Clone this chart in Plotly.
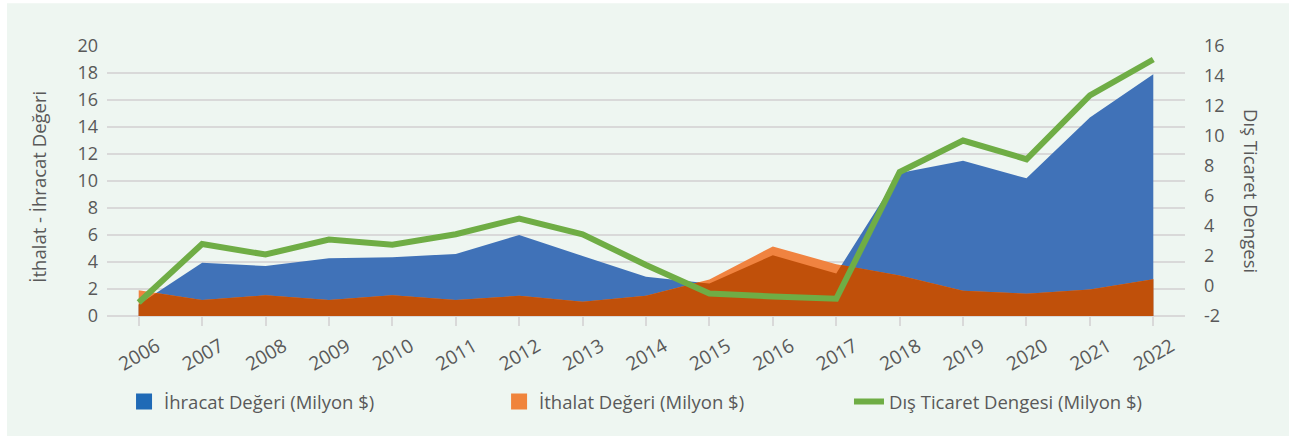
import plotly.graph_objects as go

years = ["2006", "2007", "2008", "2009", "2010", "2011", "2012", "2013", "2014",
         "2015", "2016", "2017", "2018", "2019", "2020", "2021", "2022"]
ihracat = [0.85, 3.95, 3.7, 4.28, 4.35, 4.6, 6.0, 4.45, 2.9,
           2.4, 4.5, 3.15, 10.6, 11.5, 10.2, 14.7, 17.9]
ithalat = [1.9, 1.18, 1.53, 1.18, 1.53, 1.18, 1.5, 1.06, 1.5,
           2.7, 5.15, 3.84, 3.0, 1.87, 1.65, 1.97, 2.72]
denge = [-1.1, 2.8, 2.1, 3.1, 2.75, 3.45, 4.5, 3.45, 1.4,
         -0.5, -0.7, -0.85, 7.6, 9.7, 8.45, 12.7, 15.1]
sag_eksen = [-2, 0, 2, 4, 6, 8, 10, 12, 14, 16]

BLUE = "#4072B8"
ORANGE = "#F08340"
DARK = "#C0500A"
GREEN = "#6FAD45"
TXT = "#595959"
BG = "#EEF6F1"
FONT = "Open Sans"

idx = list(range(len(years)))

# overlap of the two areas = area under the lower curve (with crossing points)
ov_x, ov_y = [], []
for i in idx:
    ov_x.append(i)
    ov_y.append(min(ihracat[i], ithalat[i]))
    if i < len(years) - 1:
        d0 = ihracat[i] - ithalat[i]
        d1 = ihracat[i + 1] - ithalat[i + 1]
        if d0 * d1 < 0:
            t = d0 / (d0 - d1)
            ov_x.append(i + t)
            ov_y.append(ihracat[i] + t * (ihracat[i + 1] - ihracat[i]))

traces = [
    go.Scatter(x=idx, y=ihracat, mode="none", fill="tozeroy", fillcolor=BLUE,
               showlegend=False, hoverinfo="skip"),
    go.Scatter(x=idx, y=ithalat, mode="none", fill="tozeroy", fillcolor=ORANGE,
               showlegend=False, hoverinfo="skip"),
    go.Scatter(x=ov_x, y=ov_y, mode="none", fill="tozeroy", fillcolor=DARK,
               showlegend=False, hoverinfo="skip"),
    go.Scatter(x=idx, y=denge, mode="lines", yaxis="y2",
               line=dict(color=GREEN, width=6),
               name="Dış Ticaret Dengesi (Milyon $)", legend="legend3"),
    # legend swatches
    go.Scatter(x=[None], y=[None], mode="markers",
               marker=dict(symbol="square", size=18, color="#1F6AB6"),
               name="İhracat Değeri (Milyon $)", legend="legend"),
    go.Scatter(x=[None], y=[None], mode="markers",
               marker=dict(symbol="square", size=18, color="#F0843C"),
               name="İthalat Değeri (Milyon $)", legend="legend2"),
]

leg = dict(orientation="h", yanchor="middle", y=-0.318, xanchor="left",
           bgcolor="rgba(0,0,0,0)", font=dict(family=FONT, size=18.5, color=TXT))

layout = go.Layout(
    width=1292, height=439,
    margin=dict(l=107, r=107, t=46, b=123),
    paper_bgcolor="white",
    plot_bgcolor=BG,
    font=dict(family=FONT, color=TXT),
    xaxis=dict(
        range=[-0.5, 16.5],
        tickmode="array", tickvals=idx, ticktext=years,
        tickangle=-30,
        ticks="outside", ticklen=9, tickwidth=2, tickcolor="#D9D9D9",
        showgrid=False, zeroline=False,
        tickfont=dict(size=19, color=TXT),
        ticklabelshift=18, ticklabelstandoff=2,
    ),
    yaxis=dict(
        range=[0, 20], dtick=2,
        gridcolor="#D9D9D9", gridwidth=1.5,
        zeroline=True, zerolinecolor="#D9D9D9", zerolinewidth=2,
        tickfont=dict(size=18, color=TXT),
        ticklabelstandoff=8,
    ),
    yaxis2=dict(
        range=[-2, 16], overlaying="y", side="right",
        tickmode="array", tickvals=sag_eksen, ticktext=[str(v) for v in sag_eksen],
        showgrid=False, zeroline=False,
        tickfont=dict(size=18, color=TXT),
        ticklabelstandoff=18,
    ),
    legend=dict(leg, x=0.0158),
    legend2=dict(leg, x=0.3637),
    legend3=dict(leg, x=0.6883),
    annotations=[
        dict(text="İthalat - İhracat Değeri", xref="paper", yref="paper",
             x=-0.0631, y=0.479, xanchor="center", yanchor="middle",
             textangle=-90, showarrow=False,
             font=dict(size=18.5, color=TXT)),
        dict(text="Dış Ticaret Dengesi", xref="paper", yref="paper",
             x=1.0622, y=0.4625, xanchor="center", yanchor="middle",
             textangle=90, showarrow=False,
             font=dict(size=18.5, color=TXT)),
    ],
    shapes=[
        dict(type="rect", xref="paper", yref="paper", layer="below",
             x0=-0.0928, x1=1.0965, y0=-0.444, y1=1.158,
             fillcolor=BG, line=dict(width=0)),
    ],
)

fig = go.Figure(data=traces, layout=layout)
fig.write_html("out.html", config={"displayModeBar": False},
               post_script="document.body.style.margin='0';")
